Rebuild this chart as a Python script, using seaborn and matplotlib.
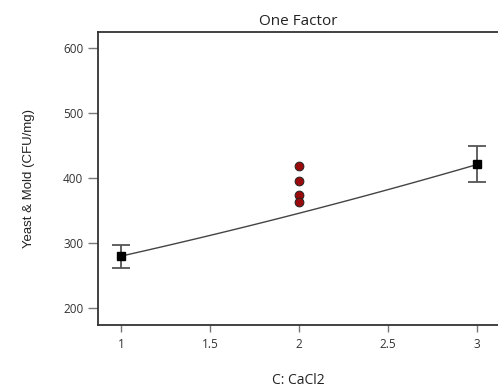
import matplotlib
matplotlib.use("Agg")
import matplotlib.pyplot as plt
import seaborn as sns
import numpy as np
import pandas as pd

# Factor levels of CaCl2 and the model prediction at each level
levels = [1, 2, 3]
predicted = [280, 346, 421]

# Predicted means with confidence bars at the axial points
bar_x = [1, 3]
bar_y = [280, 421.5]
bar_err = [17.5, 28]

# Observed responses at the centre point
obs_x = [2, 2, 2, 2]
obs_y = [418, 396, 374, 363]

x_ticks = [1, 1.5, 2, 2.5, 3]
x_tick_labels = ["1", "1.5", "2", "2.5", "3"]
y_ticks = [200, 300, 400, 500, 600]

sns.set_theme(style="white")
plt.rcParams["font.family"] = ["Open Sans", "DejaVu Sans"]

fig = plt.figure(figsize=(4.98, 3.90), dpi=100)
ax = fig.add_axes([98 / 498, 1 - 325 / 390, 400 / 498, (325 - 32) / 390])

# Quadratic model curve through the predicted means
sns.regplot(x=levels, y=predicted, order=2, ci=None, scatter=False,
            line_kws=dict(color="#444444", lw=1.0), truncate=True, ax=ax)

# Observed points
obs = pd.DataFrame({"CaCl2": obs_x, "YM": obs_y})
sns.scatterplot(data=obs, x="CaCl2", y="YM", ax=ax, color="#9b0a0a",
                edgecolor="#222222", linewidth=0.7, s=40, zorder=4)

# Predicted means with interval bars
ax.errorbar(bar_x, bar_y, yerr=bar_err, fmt="s", color="black", ms=6,
            ecolor="#555555", elinewidth=1.3, capsize=6.5, capthick=1.3,
            zorder=5)

ax.set_xlim(0.871, 3.118)
ax.set_ylim(174, 625)
ax.set_xticks(x_ticks)
ax.set_xticklabels(x_tick_labels)
ax.set_yticks(y_ticks)

for side in ["left", "bottom", "top"]:
    ax.spines[side].set_visible(True)
    ax.spines[side].set_color("#333333")
    ax.spines[side].set_linewidth(1.3)
ax.spines["right"].set_visible(False)

ax.tick_params(axis="y", direction="out", length=7, width=1, color="#777777",
               labelsize=8.5, labelcolor="#333333", pad=3.5, left=True)
ax.tick_params(axis="x", direction="out", length=5, width=1, color="#777777",
               labelsize=8.5, labelcolor="#333333", pad=4.5, bottom=True)

ax.set_title("One Factor", fontsize=11, color="#222222", pad=5)
ax.set_xlabel("C: CaCl2", fontsize=10, color="#222222", labelpad=16)
ax.set_ylabel("Yeast & Mold (CFU/mg)", fontsize=9.5, color="#222222", labelpad=20,
              family=["Liberation Sans", "DejaVu Sans"])

fig.savefig("out.png", dpi=100)
